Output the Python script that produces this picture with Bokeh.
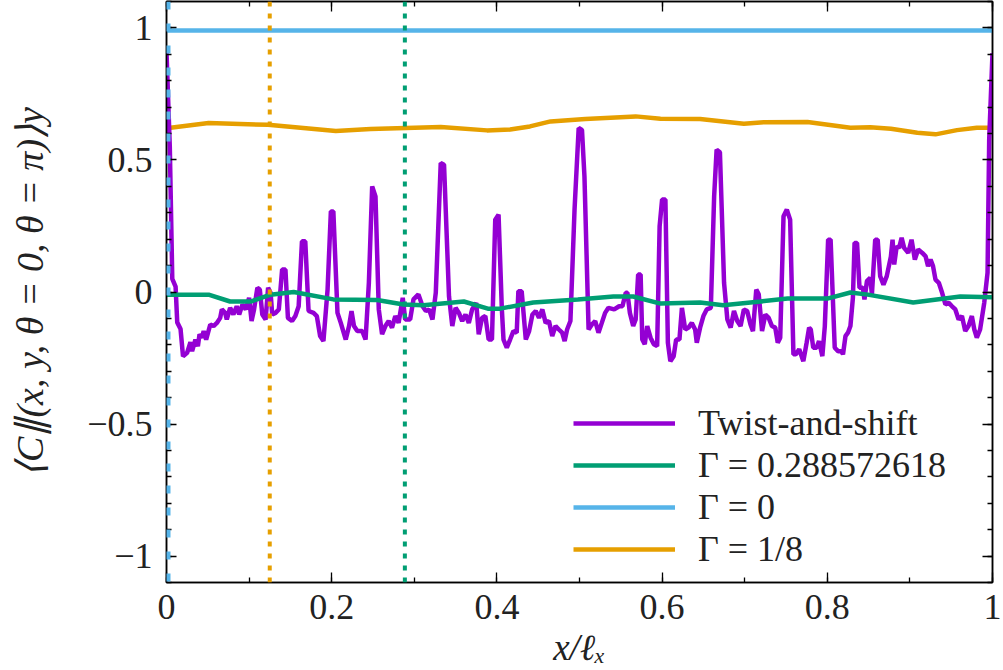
import numpy as np
from bokeh.plotting import figure
from bokeh.models import (Range1d, LinearAxis, FixedTicker, CustomJSTickFormatter,
                          Span, Legend, LegendItem)
from bokeh.embed import file_html
from bokeh.resources import INLINE

# ---------------- data ----------------
x_ticks = [0.0, 0.2, 0.4, 0.6, 0.8, 1.0]
x_minor = [0.0, 0.1, 0.2, 0.3, 0.4, 0.5, 0.6, 0.7, 0.8, 0.9, 1.0]
y_ticks = [-1.0, -0.5, 0.0, 0.5, 1.0]
y_minor = [-1.1, -1.0, -0.9, -0.8, -0.7, -0.6, -0.5, -0.4, -0.3, -0.2, -0.1, 0.0,
           0.1, 0.2, 0.3, 0.4, 0.5, 0.6, 0.7, 0.8, 0.9, 1.0, 1.1]

gamma_values = [0.0, 0.125, 0.288572618]

twist_x = [0.0, 0.004, 0.007, 0.011, 0.013, 0.017, 0.020, 0.025, 0.029, 0.031, 0.035, 0.038,
           0.040, 0.043, 0.045, 0.048, 0.053, 0.057, 0.061, 0.065, 0.067, 0.071, 0.073, 0.077,
           0.081, 0.085, 0.088, 0.092, 0.096, 0.100, 0.103, 0.106, 0.110, 0.113, 0.116, 0.120,
           0.123, 0.126, 0.128, 0.132, 0.136, 0.140, 0.144, 0.147, 0.152, 0.156, 0.160, 0.164,
           0.168, 0.172, 0.178, 0.182, 0.186, 0.190, 0.195, 0.199, 0.202, 0.207, 0.211, 0.217,
           0.221, 0.224, 0.227, 0.231, 0.237, 0.241, 0.245, 0.249, 0.253, 0.257, 0.261, 0.265,
           0.269, 0.273, 0.277, 0.281, 0.286, 0.289, 0.295, 0.299, 0.305, 0.310, 0.314, 0.318,
           0.322, 0.326, 0.332, 0.336, 0.342, 0.346, 0.350, 0.354, 0.358, 0.362, 0.366, 0.370,
           0.375, 0.378, 0.382, 0.386, 0.390, 0.394, 0.398, 0.402, 0.406, 0.408, 0.412, 0.416,
           0.420, 0.424, 0.426, 0.430, 0.435, 0.439, 0.443, 0.447, 0.451, 0.455, 0.459, 0.463,
           0.467, 0.471, 0.475, 0.479, 0.482, 0.485, 0.489, 0.494, 0.499, 0.503, 0.506, 0.511,
           0.515, 0.519, 0.523, 0.527, 0.531, 0.535, 0.542, 0.548, 0.552, 0.556, 0.558, 0.561,
           0.565, 0.568, 0.571, 0.574, 0.576, 0.579, 0.582, 0.586, 0.590, 0.594, 0.597, 0.600,
           0.604, 0.607, 0.610, 0.614, 0.617, 0.621, 0.624, 0.628, 0.632, 0.636, 0.640, 0.642,
           0.646, 0.650, 0.654, 0.659, 0.663, 0.666, 0.670, 0.675, 0.679, 0.683, 0.687, 0.691,
           0.695, 0.699, 0.703, 0.707, 0.710, 0.714, 0.717, 0.721, 0.725, 0.729, 0.733, 0.737,
           0.740, 0.743, 0.747, 0.751, 0.755, 0.759, 0.762, 0.766, 0.771, 0.775, 0.778, 0.780,
           0.783, 0.787, 0.790, 0.794, 0.797, 0.801, 0.804, 0.809, 0.813, 0.817, 0.819, 0.822,
           0.825, 0.828, 0.831, 0.833, 0.836, 0.839, 0.843, 0.845, 0.848, 0.852, 0.854, 0.858,
           0.861, 0.864, 0.868, 0.872, 0.877, 0.879, 0.881, 0.884, 0.887, 0.890, 0.893, 0.898,
           0.902, 0.906, 0.910, 0.915, 0.919, 0.922, 0.925, 0.928, 0.931, 0.935, 0.939, 0.943,
           0.947, 0.951, 0.955, 0.959, 0.963, 0.967, 0.971, 0.975, 0.978, 0.981, 0.985, 0.990,
           0.994, 0.996, 1.0]
twist_y = [0.91, 0.55, 0.05, 0.02, -0.115, -0.14, -0.243, -0.23, -0.19, -0.224, -0.18, -0.205,
           -0.16, -0.173, -0.148, -0.18, -0.123, -0.129, -0.117, -0.098, -0.066, -0.079, -0.104, -0.06,
           -0.085, -0.054, -0.085, -0.047, -0.066, -0.022, -0.11, -0.066, 0.016, 0.009, -0.085, -0.104,
           0.016, -0.003, -0.085, -0.079, -0.066, 0.085, 0.085, -0.098, -0.11, -0.091, -0.054, 0.192,
           0.192, -0.072, -0.079, -0.091, -0.167, -0.186, 0.009, 0.305, 0.305, -0.079, -0.117, -0.18,
           -0.129, -0.072, -0.129, -0.148, -0.148, -0.18, 0.035, 0.40, 0.362, -0.066, -0.16, -0.129,
           -0.11, -0.135, -0.091, -0.117, -0.022, -0.104, -0.104, -0.028, -0.009, -0.054, -0.072, -0.066,
           -0.104, -0.003, 0.488, 0.482, -0.016, -0.129, -0.06, -0.079, -0.11, -0.085, -0.117, -0.066,
           -0.041, -0.16, -0.098, -0.091, -0.18, -0.18, 0.274, 0.293, -0.066, -0.18, -0.211, -0.18,
           -0.148, -0.154, 0.003, 0.003, -0.18, -0.148, -0.085, -0.072, -0.098, -0.066, -0.117, -0.11,
           -0.167, -0.129, -0.142, -0.154, -0.186, -0.142, -0.11, 0.312, 0.621, 0.614, 0.438, -0.142,
           -0.123, -0.11, -0.154, -0.117, -0.079, -0.06, -0.066, -0.054, -0.054, -0.003, -0.003, -0.079,
           -0.129, -0.104, 0.066, 0.066, -0.18, -0.198, -0.129, -0.173, -0.198, -0.205, 0.249, 0.35,
           0.35, -0.192, -0.262, -0.243, -0.18, -0.18, -0.06, -0.142, -0.135, -0.117, -0.142, -0.192,
           -0.135, -0.091, -0.066, -0.06, 0.362, 0.539, 0.529, 0.035, -0.104, -0.135, -0.072, -0.11,
           -0.129, -0.066, -0.072, -0.123, -0.148, 0.009, -0.009, -0.148, -0.085, -0.098, -0.129, -0.135,
           -0.192, -0.173, 0.287, 0.312, 0.274, -0.236, -0.236, -0.217, -0.262, -0.192, -0.135, -0.142,
           -0.211, -0.211, -0.186, -0.243, -0.129, 0.198, 0.198, -0.211, -0.224, -0.224, -0.236, -0.167,
           -0.154, -0.129, -0.022, 0.186, 0.186, 0.016, 0.016, -0.028, 0.041, 0.054, -0.009, 0.198,
           0.198, 0.06, 0.028, 0.06, 0.135, 0.198, 0.104, 0.173, 0.167, 0.205, 0.167, 0.148,
           0.198, 0.123, 0.161, 0.148, 0.135, 0.098, 0.123, 0.098, 0.047, 0.035, -0.003, -0.047,
           -0.041, -0.054, -0.066, -0.104, -0.091, -0.148, -0.129, -0.091, -0.142, -0.173, -0.142, -0.041,
           0.073, 0.577, 0.905]

g0288_x = [0.0, 0.051, 0.077, 0.102, 0.126, 0.154, 0.202, 0.255, 0.287, 0.311, 0.36, 0.389, 0.404,
           0.444, 0.498, 0.541, 0.565, 0.598, 0.646, 0.674, 0.719, 0.752, 0.8, 0.828, 0.849, 0.904,
           0.961, 1.0]
g0288_y = [-0.01, -0.01, -0.036, -0.036, -0.01, 0.0, -0.028, -0.03, -0.047, -0.05, -0.036, -0.063,
           -0.063, -0.04, -0.028, -0.017, -0.017, -0.044, -0.04, -0.05, -0.036, -0.025, -0.025, -0.002,
           -0.01, -0.04, -0.017, -0.02]

g0_x = [0.0, 1.0]
g0_y = [0.99, 0.99]

g18_x = [0.0, 0.051, 0.123, 0.205, 0.247, 0.332, 0.388, 0.416, 0.44, 0.465, 0.507, 0.568, 0.598,
         0.646, 0.699, 0.723, 0.776, 0.828, 0.852, 0.877, 0.909, 0.931, 0.957, 0.981, 1.0]
g18_y = [0.62, 0.64, 0.633, 0.61, 0.617, 0.625, 0.612, 0.615, 0.627, 0.646, 0.655, 0.665, 0.656,
         0.655, 0.637, 0.643, 0.644, 0.622, 0.624, 0.618, 0.603, 0.597, 0.613, 0.622, 0.622]

labels = ["Twist-and-shift", "\u0393 = 0.288572618", "\u0393 = 0", "\u0393 = 1/8"]
x_label = "x/\u2113\u2093"
y_label = "\u27e8C\u2225(x, y, \u03b8 = 0, \u03b8 = \u03c0)\u27e9y"

# ---------------- style ----------------
FONT = "Liberation Serif"
TXT = "#222222"
PURPLE = "#9400D3"
GREEN = "#009E73"
BLUE = "#56B4E9"
ORANGE = "#E69F00"

p = figure(width=1003, height=670, x_range=Range1d(0, 1), y_range=Range1d(-1.1, 1.1),
           output_backend="svg", toolbar_location=None,
           x_axis_location=None, y_axis_location=None,
           min_border_left=166, min_border_right=11, min_border_top=1, min_border_bottom=87)
p.grid.visible = False
p.outline_line_color = "black"
p.outline_line_width = 1.5
p.background_fill_color = "white"
p.border_fill_color = "white"

fmt = CustomJSTickFormatter(code="""
const v = Math.round(tick*10)/10;
return v < 0 ? '\\u2212' + String(Math.abs(v)) : String(v);
""")


def make_axis(ticks, minor, show_labels, standoff=10):
    ax = LinearAxis(ticker=FixedTicker(ticks=ticks, minor_ticks=minor), formatter=fmt)
    ax.major_tick_in = 10
    ax.major_tick_out = 0
    ax.minor_tick_in = 5
    ax.minor_tick_out = 0
    ax.major_tick_line_color = "black"
    ax.minor_tick_line_color = "black"
    ax.major_tick_line_width = 1.3
    ax.minor_tick_line_width = 1.3
    ax.axis_line_color = "black"
    ax.axis_line_width = 1.5
    if show_labels:
        ax.major_label_text_font = FONT
        ax.major_label_text_font_size = "36px"
        ax.major_label_text_color = TXT
        ax.major_label_standoff = standoff
    else:
        ax.major_label_text_font_size = "1px"
        ax.major_label_text_color = None
        ax.major_label_standoff = 0
    return ax


xb = make_axis(x_ticks, x_minor, True, 12)
xb.axis_label = x_label
xb.axis_label_text_font = FONT
xb.axis_label_text_font_size = "37px"
xb.axis_label_text_font_style = "italic"
xb.axis_label_text_color = TXT
xb.axis_label_standoff = 5
p.add_layout(xb, "below")

yl = make_axis(y_ticks, y_minor, True, 14)
yl.axis_label = y_label
yl.axis_label_text_font = FONT
yl.axis_label_text_font_size = "38px"
yl.axis_label_text_font_style = "italic"
yl.axis_label_text_color = TXT
yl.axis_label_standoff = 33
p.add_layout(yl, "left")

p.add_layout(make_axis(x_ticks, x_minor, False), "above")
p.add_layout(make_axis(y_ticks, y_minor, False), "right")

# reference lines at the Gamma values
span_styles = [(BLUE, 8, "8 14"), (ORANGE, 4, "5 7"), (GREEN, 4, "5 7")]
for g, (c, w, d) in zip(gamma_values, span_styles):
    p.add_layout(Span(location=g, dimension="height", line_color=c, line_width=w,
                      line_dash=d, level="overlay" if g == 0 else "annotation"))

LW = 4.5
r_blue = p.line(g0_x, g0_y, line_color=BLUE, line_width=LW)
r_orange = p.line(g18_x, g18_y, line_color=ORANGE, line_width=LW)
r_purple = p.line(twist_x, twist_y, line_color=PURPLE, line_width=LW)
r_green = p.line(g0288_x, g0288_y, line_color=GREEN, line_width=LW)

legend = Legend(items=[LegendItem(label=labels[0], renderers=[r_purple]),
                       LegendItem(label=labels[1], renderers=[r_green]),
                       LegendItem(label=labels[2], renderers=[r_blue]),
                       LegendItem(label=labels[3], renderers=[r_orange])],
                location=(407, 12))
legend.border_line_color = None
legend.background_fill_alpha = 0
legend.padding = 0
legend.spacing = 0
legend.margin = 0
legend.glyph_width = 102
legend.glyph_height = 42
legend.label_height = 42
legend.label_standoff = 23
legend.label_text_font = FONT
legend.label_text_font_size = "36px"
legend.label_text_color = TXT
legend.label_text_baseline = "middle"
p.add_layout(legend)

open("out.html", "w").write(file_html(p, INLINE))
